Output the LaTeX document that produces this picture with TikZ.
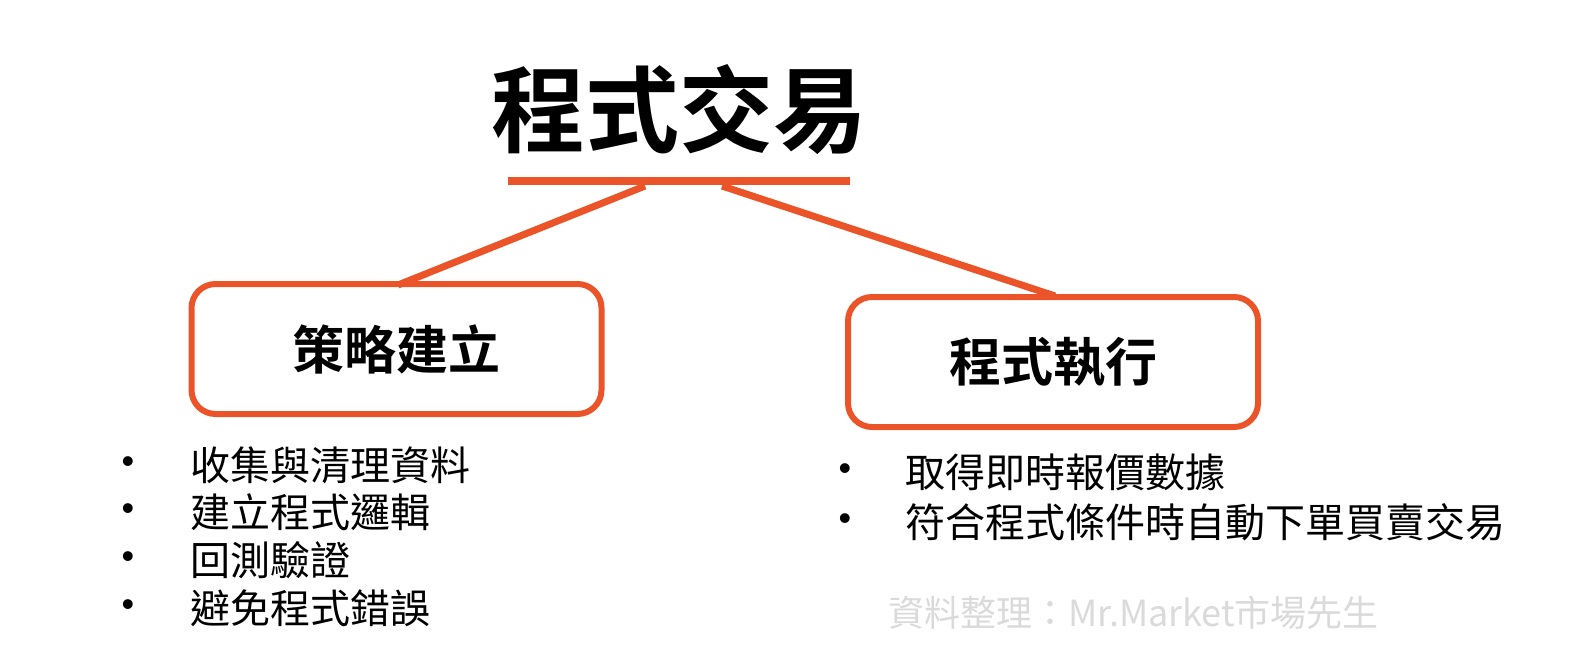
\documentclass[tikz,border=0pt]{standalone}
\usepackage{fontspec}
\newfontfamily\cjk{Noto Sans CJK TC}
\newfontfamily\cjkb{Noto Sans CJK TC Bold}
\newfontfamily\bul{Liberation Sans}
\definecolor{accent}{HTML}{EB5428}
\definecolor{wm}{HTML}{DADADA}
\tikzset{
  conn/.style={draw=accent,line width=7pt},
  box/.style={draw=accent,line width=6pt,rounded corners=24pt,minimum width=410pt,minimum height=130pt,font=\cjkb\fontsize{52}{56}\selectfont},
  item/.style={anchor=west,inner sep=0pt,font=\cjk\fontsize{40}{44}\selectfont},
  dot/.style={inner sep=0pt,font=\bul\fontsize{36}{40}\selectfont},
}
\begin{document}
\begin{tikzpicture}[x=1pt,y=-1pt]
\useasboundingbox (0,0) rectangle (1570,666);
\node[inner sep=0pt,font=\cjkb\fontsize{94}{98}\selectfont] (title) at (679,110) {程式交易};
\coordinate (ul) at (508,181);
\coordinate (ur) at (850,181);
\draw[accent,line width=8pt] (ul) -- (ur);
\coordinate (lt) at (645,186);
\coordinate (rt) at (722,186);
\node[box] (strat) at (396.5,349) {策略建立};
\node[box] (exec) at (1053,362) {程式執行};
\draw[conn] (lt) -- (398,285);
\draw[conn] (rt) -- (1055,296);
% left list
\node[dot] (b1) at (128,465) {•};
\node[dot] (b2) at (128,512) {•};
\node[dot] (b3) at (128,560) {•};
\node[dot] (b4) at (128,608) {•};
\node[item] (l1) at (190,465) {收集與清理資料};
\node[item] (l2) at (190,512) {建立程式邏輯};
\node[item] (l3) at (190,560) {回測驗證};
\node[item] (l4) at (190,608) {避免程式錯誤};
% right list
\node[dot] (c1) at (845,472) {•};
\node[dot] (c2) at (845,522) {•};
\node[item] (r1) at (905,472) {取得即時報價數據};
\node[item] (r2) at (905,522) {符合程式條件時自動下單買賣交易};
\node[anchor=west,inner sep=0pt,text=wm,font=\cjk\fontsize{36}{40}\selectfont] (wmk) at (888,613) {資料整理：Mr.Market市場先生};
\end{tikzpicture}
\end{document}
